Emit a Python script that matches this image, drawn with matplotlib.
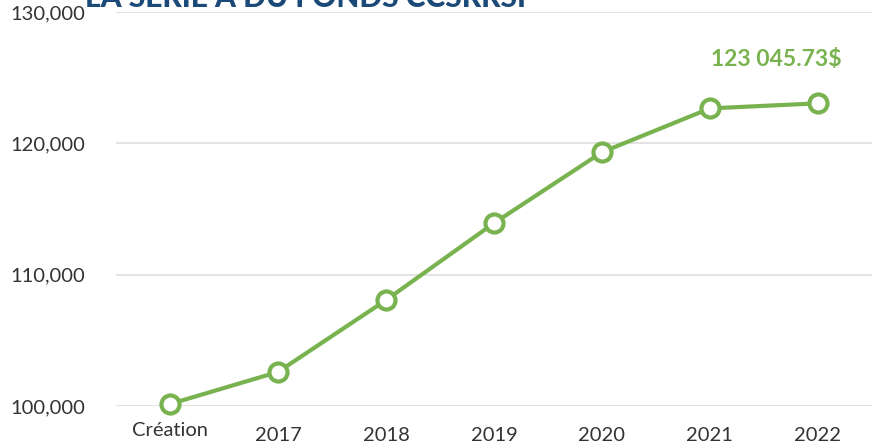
import matplotlib.pyplot as plt
import matplotlib.transforms as mtransforms
from matplotlib.ticker import FuncFormatter

categories = ["Création", "2017", "2018", "2019", "2020", "2021", "2022"]
values = [100150, 102590, 108060, 113920, 119320, 122660, 123045.73]
yticks = [100000, 110000, 120000, 130000]
final_label = "123 045.73$"
title = "LA SÉRIE A DU FONDS CCSRRSI"

green = "#79b34f"
plt.rcParams["font.family"] = ["Lato", "DejaVu Sans"]

fig = plt.figure(figsize=(8.82, 4.44), dpi=100)
ax = fig.add_axes([0.1315, 0.0856, 0.857, 0.8874])

x = list(range(len(categories)))
ax.plot(x, values, color=green, lw=3, marker="o", ms=13, mfc="white",
        mec=green, mew=3, clip_on=False, zorder=3)

ax.set_xlim(-0.5, len(categories) - 0.5)
ax.set_ylim(100000, 130000)
ax.set_yticks(yticks)
ax.yaxis.set_major_formatter(FuncFormatter(lambda v, p: f"{int(v):,}"))
ax.set_xticks(x)
ax.set_xticklabels(categories)
ax.grid(axis="y", color="#e3e3e3", lw=1.5)
ax.set_axisbelow(True)
for s in ax.spines.values():
    s.set_visible(False)
ax.tick_params(axis="y", length=0, pad=22, labelsize=14.5, labelcolor="#333333")
ax.tick_params(axis="x", length=0, pad=15, labelsize=14.5, labelcolor="#333333")

# first label sits a little higher in the original
lbl = ax.get_xticklabels()[0]
lbl.set_transform(lbl.get_transform() + mtransforms.ScaledTranslation(0, 5 / 100, fig.dpi_scale_trans))

ax.annotate(final_label, (x[-1], values[-1]), xytext=(-30, 24),
            textcoords="offset points", ha="center", va="bottom",
            color=green, fontsize=16.5, fontweight="bold")

fig.text(0.096, 0.984, title, ha="left", va="baseline", fontsize=21.5,
         fontweight="black", color="#1b4a78")

plt.savefig("out.png")
